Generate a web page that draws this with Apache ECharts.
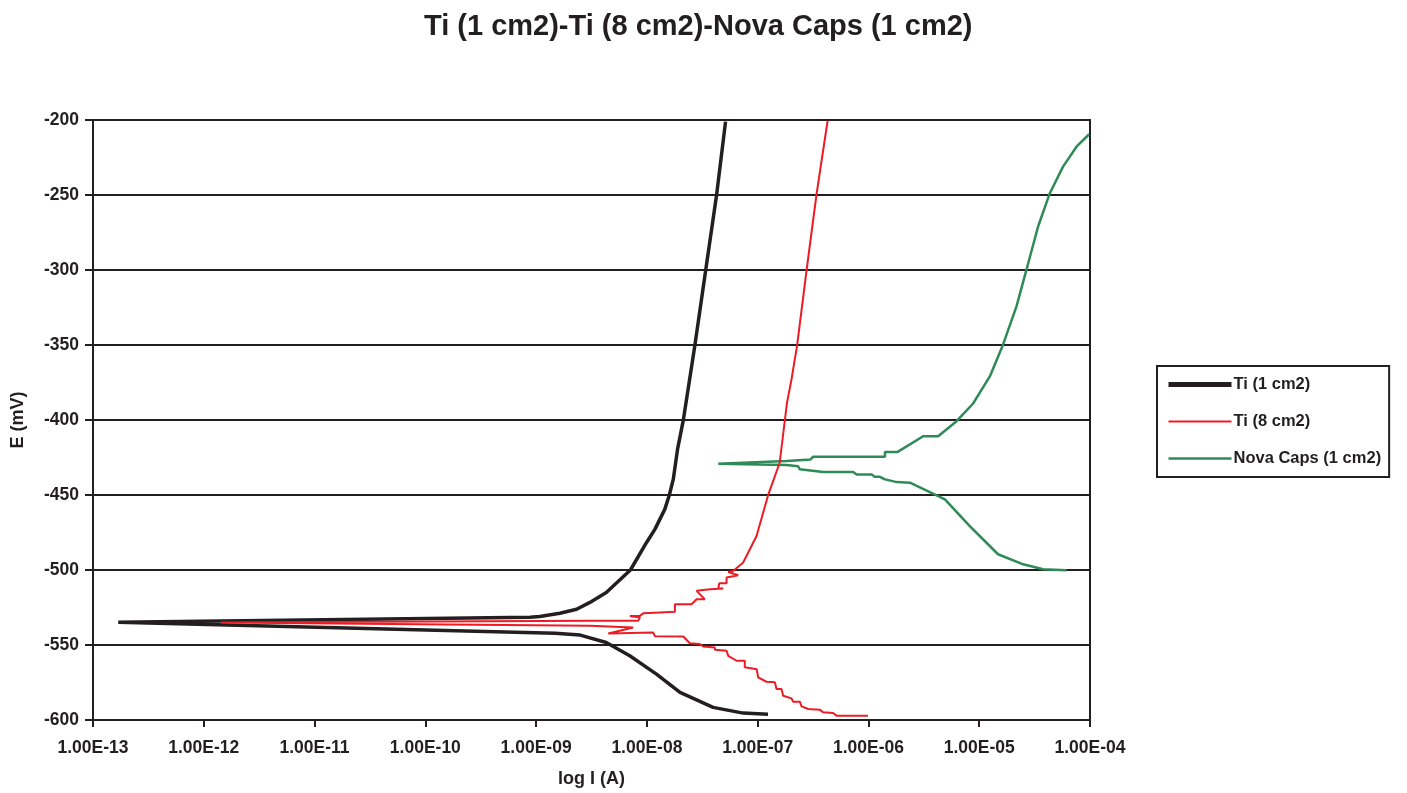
<!DOCTYPE html>
<html>
<head>
<meta charset="utf-8">
<script src="https://cdn.jsdelivr.net/npm/echarts@6/dist/echarts.min.js"></script>
<style>
  html, body { margin: 0; padding: 0; background: #ffffff; }
  #chart { width: 1407px; height: 793px; }
</style>
</head>
<body>
<div id="chart"></div>
<script>
// ---- Data: [current (A), potential (mV)] in scan order ----
const seriesNames = ['Ti (1 cm2)', 'Ti (8 cm2)', 'Nova Caps (1 cm2)'];

const ti1cm2 = [
  [1.24e-7, -596.1], [7.4e-8, -595.4], [3.96e-8, -591.6], [1.99e-8, -581.6],
  [1.22e-8, -569.4], [7.0e-9, -557.2], [4.3e-9, -548.3], [2.5e-9, -543.4],
  [1.48e-9, -542.1], [1.69e-13, -534.8], [8.8e-10, -531.5], [1.08e-9, -531.0],
  [1.64e-9, -528.8], [2.32e-9, -526.2], [3.06e-9, -521.6], [4.3e-9, -515.0],
  [7.1e-9, -500.0], [9.9e-9, -481.8], [1.18e-8, -472.9], [1.45e-8, -459.6],
  [1.59e-8, -450.3], [1.73e-8, -439.6], [1.89e-8, -419.6], [2.13e-8, -400.3],
  [2.71e-8, -350.4], [3.39e-8, -300.5], [4.26e-8, -249.9], [5.13e-8, -201.1]
];

const ti8cm2 = [
  [9.9e-7, -597.1], [5.15e-7, -597.1], [4.8e-7, -595.3], [3.9e-7, -594.9],
  [3.64e-7, -593.1], [2.86e-7, -592.7], [2.49e-7, -590.9], [2.4e-7, -587.8],
  [2.09e-7, -587.8], [2.02e-7, -585.6], [1.70e-7, -583.8], [1.64e-7, -579.4],
  [1.48e-7, -579.4], [1.43e-7, -574.9], [1.20e-7, -574.5], [1.01e-7, -571.6],
  [9.8e-8, -566.1], [7.65e-8, -564.9], [7.65e-8, -560.5], [6.46e-8, -560.5],
  [5.42e-8, -557.2], [5.24e-8, -553.9], [4.11e-8, -553.2], [4.11e-8, -551.6],
  [3.22e-8, -551.0], [3.0e-8, -549.4], [2.44e-8, -548.8], [2.13e-8, -544.3],
  [1.18e-8, -544.1], [1.14e-8, -541.6], [4.48e-9, -542.3], [7.52e-9, -538.3],
  [3.06e-9, -537.2], [1.43e-12, -535.0], [3.06e-9, -533.9], [8.34e-9, -533.9],
  [8.65e-9, -531.7], [7.03e-9, -530.6], [8.65e-9, -530.6], [9.27e-9, -528.8],
  [1.31e-8, -528.3], [1.79e-8, -527.9], [1.79e-8, -522.8], [2.53e-8, -522.8],
  [2.81e-8, -519.5], [3.33e-8, -519.5], [2.81e-8, -513.9], [3.71e-8, -512.8],
  [4.89e-8, -512.3], [4.41e-8, -512.3], [4.5e-8, -508.8], [5.24e-8, -508.8],
  [5.24e-8, -505.0], [6.67e-8, -503.5], [5.42e-8, -501.3], [6.01e-8, -500.6],
  [7.4e-8, -495.0], [9.77e-8, -477.3], [1.24e-7, -450.3], [1.58e-7, -428.5],
  [1.84e-7, -388.4], [2.02e-7, -373.0], [2.27e-7, -350.2], [2.76e-7, -300.5],
  [3.4e-7, -249.5], [4.28e-7, -200.5]
];

const novaCaps1cm2 = [
  [6.14e-5, -500.2], [3.78e-5, -499.5], [2.49e-5, -496.2], [1.48e-5, -489.5],
  [8.22e-6, -470.7], [4.9e-6, -452.9], [4.26e-6, -450.7], [2.37e-6, -441.8],
  [1.8e-6, -441.4], [1.73e-6, -440.1], [1.41e-6, -439.6], [1.27e-6, -437.9],
  [1.14e-6, -437.9], [1.07e-6, -436.3], [7.82e-7, -436.3], [7.28e-7, -434.7],
  [3.9e-7, -434.7], [3.78e-7, -433.4], [2.4e-7, -432.9], [2.32e-7, -430.8],
  [1.82e-7, -430.0], [4.41e-8, -429.2], [1.82e-7, -427.4], [1.82e-7, -426.3],
  [3.0e-7, -426.3], [3.17e-7, -424.5], [1.41e-6, -424.5], [1.41e-6, -421.4],
  [1.82e-6, -421.4], [3.12e-6, -410.8], [4.26e-6, -410.8], [6.24e-6, -400.8],
  [8.81e-6, -389.0], [1.25e-5, -370.8], [1.64e-5, -349.8], [2.17e-5, -324.3],
  [2.67e-5, -299.8], [3.4e-5, -271.0], [4.34e-5, -248.8], [5.71e-5, -231.1],
  [7.55e-5, -217.8], [9.82e-5, -209.5]
];

const xTickLabels = ['1.00E-13', '1.00E-12', '1.00E-11', '1.00E-10', '1.00E-09',
                     '1.00E-08', '1.00E-07', '1.00E-06', '1.00E-05', '1.00E-04'];

// ---- Chart ----
const FONT = '"Liberation Sans", Arial, Helvetica, sans-serif';
const INK = '#231f20';
const RED = '#ed1c24';
const GREEN = '#2e8b57';
const chart = echarts.init(document.getElementById('chart'), null, { renderer: 'canvas' });

chart.setOption({
  backgroundColor: '#ffffff',
  animation: false,
  title: {
    text: 'Ti (1 cm2)-Ti (8 cm2)-Nova Caps (1 cm2)',
    left: 419,
    top: 7,
    textStyle: { fontFamily: FONT, fontSize: 29, fontWeight: 'bold', color: INK }
  },
  legend: {
    orient: 'vertical',
    left: 1157,
    top: 366,
    padding: [10, 8, 10, 9],
    itemWidth: 63,
    itemHeight: 14,
    itemGap: 20,
    borderColor: INK,
    borderWidth: 2,
    itemStyle: { opacity: 0 },
    data: [
      { name: seriesNames[0], lineStyle: { width: 5 } },
      { name: seriesNames[1], lineStyle: { width: 2 } },
      { name: seriesNames[2], lineStyle: { width: 2.5 } }
    ],
    textStyle: { fontFamily: FONT, fontSize: 16.5, fontWeight: 'bold', color: INK, padding: [0, 0, 0, -3] }
  },
  grid: {
    left: 93, right: 317, top: 120, bottom: 72,
    show: true, borderColor: INK, borderWidth: 2, backgroundColor: 'transparent'
  },
  xAxis: {
    type: 'log',
    logBase: 10,
    min: 1e-13,
    max: 1e-4,
    interval: 1,
    name: 'log I (A)',
    nameLocation: 'middle',
    nameGap: 50,
    nameTextStyle: { fontFamily: FONT, fontSize: 18, fontWeight: 'bold', color: INK },
    axisLine: { lineStyle: { color: INK, width: 2 } },
    axisTick: { show: true, inside: false, length: 7, lineStyle: { color: INK, width: 2 } },
    minorTick: { show: false },
    splitLine: { show: false },
    axisLabel: {
      margin: 19,
      fontFamily: FONT, fontSize: 17.5, fontWeight: 'bold', color: INK,
      formatter: function (v) {
        const idx = Math.round(Math.log10(v)) + 13;
        return xTickLabels[idx] !== undefined ? xTickLabels[idx] : '';
      }
    }
  },
  yAxis: {
    type: 'value',
    min: -600,
    max: -200,
    interval: 50,
    name: 'E (mV)',
    nameLocation: 'middle',
    nameGap: 66,
    nameTextStyle: { fontFamily: FONT, fontSize: 18, fontWeight: 'bold', color: INK },
    axisLine: { show: true, lineStyle: { color: INK, width: 2 } },
    axisTick: { show: true, inside: false, length: 8, lineStyle: { color: INK, width: 2 } },
    splitLine: { show: true, lineStyle: { color: INK, width: 2 } },
    axisLabel: { margin: 14, fontFamily: FONT, fontSize: 17.5, fontWeight: 'bold', color: INK }
  },
  series: [
    {
      name: seriesNames[0], type: 'line', data: ti1cm2,
      symbol: 'none', showSymbol: false, smooth: false, z: 2,
      lineStyle: { color: INK, width: 3.5 }, itemStyle: { color: INK }
    },
    {
      name: seriesNames[2], type: 'line', data: novaCaps1cm2,
      symbol: 'none', showSymbol: false, smooth: false, z: 3,
      lineStyle: { color: GREEN, width: 2.5 }, itemStyle: { color: GREEN }
    },
    {
      name: seriesNames[1], type: 'line', data: ti8cm2,
      symbol: 'none', showSymbol: false, smooth: false, z: 4,
      lineStyle: { color: RED, width: 2 }, itemStyle: { color: RED }
    }
  ]
});
</script>
</body>
</html>
